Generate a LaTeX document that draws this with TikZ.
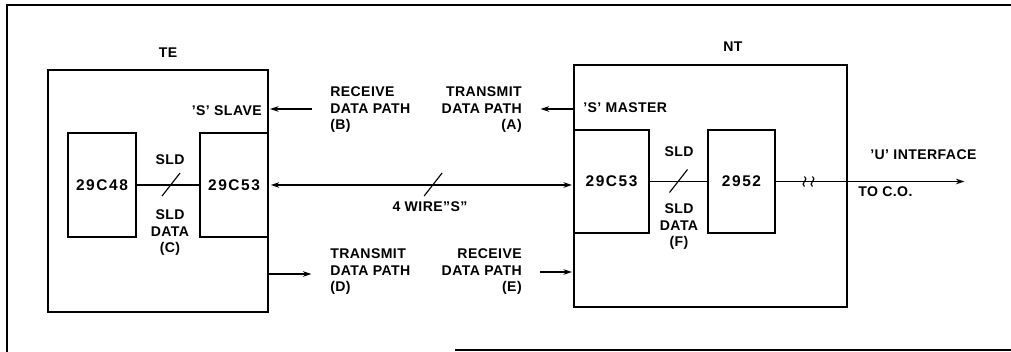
\documentclass[tikz,border=0pt]{standalone}
\usepackage{fontspec}
\setmainfont[LetterSpace=3]{Liberation Sans}
\usepackage{tikz}
\usetikzlibrary{arrows.meta}
\usetikzlibrary{positioning}
\tikzstyle{unitBox} = [rectangle, draw=black, line width=2pt, inner sep=0pt]
\tikzstyle{chip} = [rectangle, draw=black, line width=2pt, inner sep=0pt, font=\fontsize{11}{12}\selectfont\bfseries\addfontfeatures{LetterSpace=10}]
\tikzstyle{lbl} = [inner sep=0pt, align=center, font=\fontsize{10}{11.7}\selectfont\bfseries]
\tikzstyle{arrow} = [line width=0.8pt, -{Stealth[length=6pt,width=4pt]}, shorten >=0.5pt]
\tikzstyle{link} = [line width=0.8pt, -]
\tikzstyle{frame} = [line width=1.4pt]

\begin{document}
\begin{tikzpicture}[x=0.025cm, y=-0.025cm]
    \useasboundingbox (0,0) rectangle (1011,352);
    % outer frame
    \draw [frame] (1011,5) -- (7,5) -- (7,352);
    \draw [frame] (455,350) -- (1011,350);
    % TE
    \node (te) [unitBox, minimum width=5.5cm, minimum height=6.05cm] at (158,191) {};
    \node (teLabel) [lbl] at (168,53) {TE};
    \node (c48) [chip, minimum width=1.7cm, minimum height=2.6cm] at (102,185) {29C48};
    \node (te53) [chip, minimum width=1.7cm, minimum height=2.6cm] at (234,185) {29C53};
    \node (slave) [lbl, anchor=east] at (262,111) {'S' SLAVE};
    % NT
    \node (nt) [unitBox, minimum width=6.825cm, minimum height=6.05cm] at (710.5,186) {};
    \node (ntLabel) [lbl] at (733,47) {NT};
    \node (nt53) [chip, minimum width=1.875cm, minimum height=2.575cm] at (611.5,181.5) {29C53};
    \node (c2952) [chip, minimum width=1.675cm, minimum height=2.575cm] at (741.5,181.5) {2952};
    \node (master) [lbl, anchor=west] at (583,108) {'S' MASTER};
    % links with slashes
    \draw [link] (c48) -- coordinate[pos=0.55] (s1) (te53);
    \draw [link] (s1) ++(-9,11) -- ++(18,-23);
    \draw [link, {Stealth[length=6pt,width=4pt]}-{Stealth[length=6pt,width=4pt]}, shorten <=1pt, shorten >=0.5pt]
        (te53.east) -- coordinate[pos=0.54] (s2) (te53.east -| nt53.west);
    \draw [link] (s2) ++(-9,11) -- ++(18,-23);
    \draw [link] (nt53) -- coordinate[pos=0.5] (s3) (c2952);
    \draw [link] (s3) ++(-9,11) -- ++(18,-23);
    % to the C.O.
    \coordinate (co) at (965,181.5);
    \draw [arrow] (c2952) -- coordinate[pos=0.17] (br) (co);
    \foreach \dx in {-4,4}
        \draw [link] ([shift={(\dx,-5)}]br) .. controls ([shift={(\dx+5,-2)}]br) and ([shift={(\dx-5,2)}]br) .. ([shift={(\dx,5)}]br);
    % data paths
    \coordinate (aEnd) at (540,109);
    \draw [arrow] (nt.west |- aEnd) -- (aEnd);
    \coordinate (bStart) at (312,109);
    \draw [arrow] (bStart) -- (bStart -| te.east);
    \coordinate (dEnd) at (312,274);
    \draw [arrow] (te.east |- dEnd) -- (dEnd);
    \coordinate (eStart) at (540,272);
    \draw [arrow] (eStart) -- (eStart -| nt.west);
    % labels
    \node (pathB) [lbl, anchor=west, align=left] at (330,110) {RECEIVE\\DATA PATH\\(B)};
    \node (pathA) [lbl, anchor=east, align=right] at (522,110) {TRANSMIT\\DATA PATH\\(A)};
    \node (pathD) [lbl, anchor=west, align=left] at (330,272) {TRANSMIT\\DATA PATH\\(D)};
    \node (pathE) [lbl, anchor=east, align=right] at (522,272) {RECEIVE\\DATA PATH\\(E)};
    \node (wire) [lbl] at (430,207) {4 WIRE"S"};
    \node (sldC) [lbl] at (170,160) {SLD};
    \node (dataC) [lbl] at (170,233) {SLD\\DATA\\(C)};
    \node (sldF) [lbl] at (679,152) {SLD};
    \node (dataF) [lbl] at (679,227) {SLD\\DATA\\(F)};
    \node (uIf) [lbl, anchor=west] at (870,155) {'U' INTERFACE};
    \node (toCO) [lbl, anchor=west] at (858,192) {TO C.O.};
\end{tikzpicture}
\end{document}
